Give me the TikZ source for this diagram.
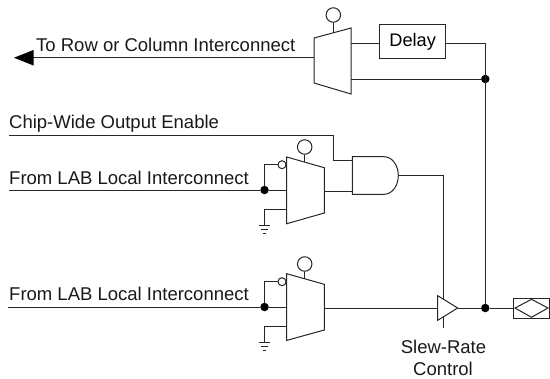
\documentclass[tikz,border=0pt]{standalone}
\usepackage{fontspec}
\setmainfont{Liberation Sans}
\usetikzlibrary{arrows.meta}
\tikzset{
  wire/.style={draw=black!85,line width=1bp},
  gate/.style={draw=black!85,line width=1bp,fill=white},
  dotn/.style={circle,fill=black,inner sep=0pt,minimum size=8.5bp},
  ctrl/.style={circle,draw=black!85,line width=1bp,fill=white,inner sep=0pt,minimum size=14.5bp},
  inv/.style={circle,draw=black!85,line width=1bp,fill=white,inner sep=0pt,minimum size=8bp},
  lab/.style={font=\fontsize{18.5bp}{20bp}\selectfont,inner sep=0pt,text=black!90},
  gnd/.style={draw=black!85,line width=1bp},
}
\newcommand{\groundat}[1]{%
  \draw[gnd] ([xshift=-5.5bp]#1) -- ([xshift=5.5bp]#1);
  \draw[gnd] ([xshift=-3.7bp,yshift=-4.3bp]#1) -- ([xshift=3.7bp,yshift=-4.3bp]#1);
  \draw[gnd] ([xshift=-1.8bp,yshift=-8.6bp]#1) -- ([xshift=1.8bp,yshift=-8.6bp]#1);
}
\begin{document}
\begin{tikzpicture}[x=1bp,y=-1bp]
\useasboundingbox (0,0) rectangle (550,378);
% top mux
\path[gate] (314,38) -- (351,28) -- (351,94) -- (314,83) -- cycle;
\coordinate (m1in) at (314,57.7);
\coordinate (m1a) at (351,43);
\coordinate (m1b) at (351,79);
\coordinate (m1c) at (333.3,33);
\node[ctrl] (c1) at (333.3,15) {};
\draw[wire] (c1) -- (m1c);
\draw[wire] (m1in) -- (30,57.7);
\fill[black] (14,57.7) -- (33.5,50) -- (33.5,65.5) -- cycle;
\node[lab,anchor=base west] (t1) at (36,51.5) {To Row or Column Interconnect};
\node[gate,draw,minimum width=66bp,minimum height=34bp,inner sep=0pt,font=\fontsize{18.2bp}{20bp}\selectfont] (delay) at (412.7,41.3) {Delay};
\coordinate (da) at (379.7,43);
\coordinate (db) at (445.7,43);
\draw[wire] (m1a) -- (da);
\node[dotn] (j1) at (485.3,79) {};
\node[dotn] (j2) at (485.3,308) {};
\draw[wire] (db) -- (485.3,43) -- (j2);
\draw[wire] (m1b) -- (j1);
% labels
\node[lab,anchor=base west] (t2) at (9,128) {Chip-Wide Output Enable};
\node[lab,anchor=base west] (t3) at (9,184) {From LAB Local Interconnect};
\node[lab,anchor=base west] (t4) at (9,300) {From LAB Local Interconnect};
\node[lab,anchor=center] (t5) at (443.5,346.5) {Slew-Rate};
\node[lab,anchor=center] (t6) at (443,368.5) {Control};
% AND
\coordinate (a1) at (352.3,160.7);
\coordinate (a2) at (352.3,191);
\coordinate (aout) at (398.3,175.5);
\path[gate] (352.3,156.7) -- (384,156.7) .. controls (392,156.7) and (398.3,165) .. (aout) .. controls (398.3,186) and (392,194.3) .. (384,194.3) -- (352.3,194.3) -- cycle;
\coordinate (cw) at (9,135);
\draw[wire] (cw) -- (333.7,135) -- (333.7,160.7) -- (a1);
% mux 2
\path[gate] (286.7,157) -- (324.3,167.7) -- (324.3,213) -- (286.7,223.7) -- cycle;
\node[ctrl] (c2) at (304.7,147) {};
\coordinate (m2c) at (304.7,162);
\draw[wire] (c2) -- (m2c);
\node[inv] (i2) at (282,164.7) {};
\node[dotn] (j3) at (264.5,190) {};
\coordinate (l2) at (9,190);
\coordinate (m2in) at (286.7,190);
\draw[wire] (l2) -- (j3) -- (m2in);
\draw[wire] (j3) -- (264.5,164.7) -- (i2);
\coordinate (g2) at (264.5,225);
\draw[wire] (286.7,209.7) -- (264.5,209.7) -- (g2);
\groundat{g2}
\draw[wire] (324.3,191) -- (a2);
% mux 3
\path[gate] (286.7,273.7) -- (324.3,284.3) -- (324.3,330) -- (286.7,340.4) -- cycle;
\node[ctrl] (c3) at (304.7,264) {};
\coordinate (m3c) at (304.7,279);
\draw[wire] (c3) -- (m3c);
\node[inv] (i3) at (282,281.7) {};
\node[dotn] (j4) at (264.5,307) {};
\coordinate (l3) at (8,307);
\coordinate (m3in) at (286.7,307);
\draw[wire] (l3) -- (j4) -- (m3in);
\draw[wire] (j4) -- (264.5,281.7) -- (i3);
\coordinate (g3) at (264.5,342);
\draw[wire] (286.7,326.7) -- (264.5,326.7) -- (g3);
\groundat{g3}
% buffer
\coordinate (bin) at (437.7,308);
\coordinate (bout) at (457.7,308);
\draw[wire] (324.3,308) -- (bin);
\draw[wire] (aout) -- (443.5,175.5) -- (443.5,328);
\path[gate] (437.7,295.7) -- (bout) -- (437.7,320.3) -- cycle;
\coordinate (pin) at (513.7,308);
\draw[wire] (bout) -- (j2) -- (pin);
\path[gate] (513.7,298.7) rectangle (549.5,318);
\path[gate] (515,308) -- (531.5,299.3) -- (548,308) -- (531.5,317.3) -- cycle;
\end{tikzpicture}
\end{document}
